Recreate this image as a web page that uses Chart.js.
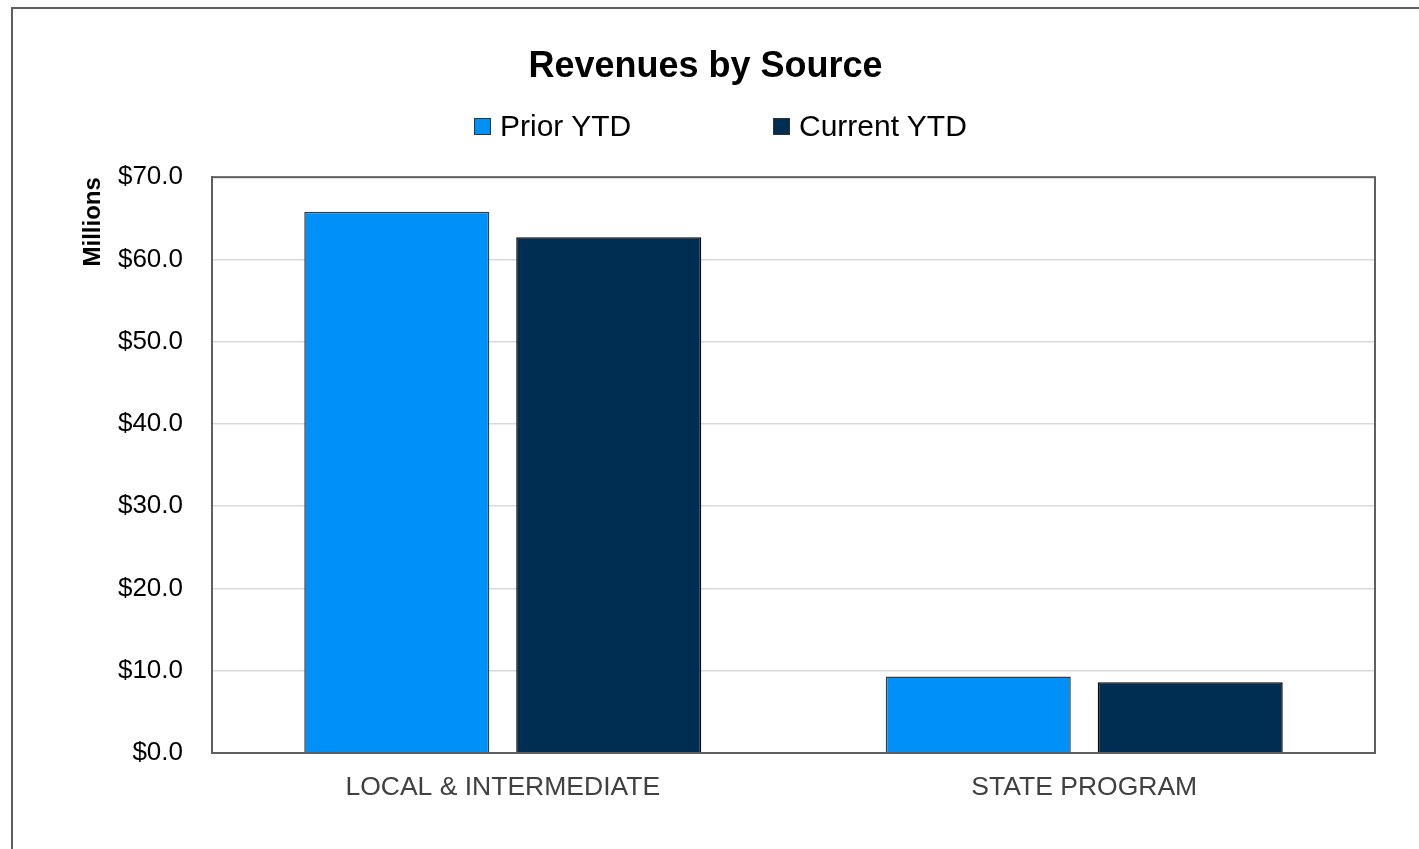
<!DOCTYPE html>
<html>
<head>
<meta charset="utf-8">
<script src="https://cdn.jsdelivr.net/npm/chart.js@4.4.1/dist/chart.umd.min.js"></script>
<style>
    body { margin: 0; background: #fff; font-family: 'Liberation Sans', Arial, sans-serif; overflow: hidden; }
    #frame { position: absolute; left: 11px; top: 7px; width: 1500px; height: 1000px; border: 2px solid #5f5f5f; box-sizing: border-box; }
    #wrap { position: absolute; left: 0; top: 0; width: 1419px; height: 849px; }
    .legend-item { position: absolute; top: 108px; height: 36px; display: flex; align-items: center; font-size: 30px; color: #000; white-space: nowrap; }
    .legend-box { width: 15px; height: 15px; border: 1px solid #333; margin-right: 9px; }
</style>
</head>
<body>
<div id="frame"></div>
<div id="wrap"><canvas id="chartRevenues"></canvas></div>
<div id="legend"></div>

<script>
// Dados (milhões de dólares)
const categorias = ['LOCAL & INTERMEDIATE', 'STATE PROGRAM'];
const seriesNomes = ['Prior YTD', 'Current YTD'];
const priorYTD = [65.8, 9.3];
const currentYTD = [62.7, 8.6];
const ticksY = [0, 10, 20, 30, 40, 50, 60, 70];

const cores = ['#0091f8', '#002e53'];
const bordas = ['#3c3c3c', '#0a0a0a'];
const fonte = "'Liberation Sans', Arial, sans-serif";

// Legenda em HTML (o espaçamento do original não cabe na legenda padrão)
const legendaPos = [474, 773];
const legenda = document.getElementById('legend');
seriesNomes.forEach((nome, i) => {
    const item = document.createElement('div');
    item.className = 'legend-item';
    item.style.left = legendaPos[i] + 'px';
    const box = document.createElement('span');
    box.className = 'legend-box';
    box.style.background = cores[i];
    item.appendChild(box);
    item.appendChild(document.createTextNode(nome));
    legenda.appendChild(item);
});

// Moldura da área do gráfico (topo e direita)
const plotBorder = {
    id: 'plotBorder',
    afterDraw(chart) {
        const { ctx, chartArea: a } = chart;
        ctx.save();
        ctx.strokeStyle = '#5f5f5f';
        ctx.lineWidth = 2;
        ctx.strokeRect(a.left, a.top, a.right - a.left, a.bottom - a.top);
        ctx.restore();
    }
};

const ctx = document.getElementById('chartRevenues').getContext('2d');
const myChart = new Chart(ctx, {
    type: 'bar',
    data: {
        labels: categorias,
        datasets: [
            {
                label: seriesNomes[0],
                data: priorYTD,
                backgroundColor: cores[0],
                borderColor: bordas[0],
                borderWidth: 1.5,
                categoryPercentage: 0.729,
                barPercentage: 0.873
            },
            {
                label: seriesNomes[1],
                data: currentYTD,
                backgroundColor: cores[1],
                borderColor: bordas[1],
                borderWidth: 1.5,
                categoryPercentage: 0.729,
                barPercentage: 0.873
            }
        ]
    },
    options: {
        responsive: true,
        maintainAspectRatio: false,
        animation: false,
        layout: {
            padding: { left: 36, right: 44, top: 0, bottom: 0 }
        },
        plugins: {
            legend: { display: false },
            tooltip: { enabled: false },
            title: {
                display: true,
                text: 'Revenues by Source',
                color: '#000',
                font: { family: fonte, size: 36, weight: 'bold' },
                padding: { top: 45, bottom: 89 }
            }
        },
        scales: {
            x: {
                grid: { display: false, drawTicks: false },
                border: { display: true, color: '#5f5f5f', width: 2 },
                ticks: {
                    color: '#404040',
                    padding: 19,
                    font: { family: fonte, size: 26.5 }
                },
                afterFit: (scale) => { scale.height = 96; }
            },
            y: {
                min: 0,
                max: 70,
                afterBuildTicks: (scale) => { scale.ticks = ticksY.map(v => ({ value: v })); },
                grid: { color: '#d9d9d9', lineWidth: 1.5, drawTicks: false },
                border: { display: true, color: '#5f5f5f', width: 2 },
                ticks: {
                    color: '#000',
                    padding: 29,
                    font: { family: fonte, size: 26 },
                    callback: (v) => '$' + Number(v).toFixed(1)
                },
                title: {
                    display: true,
                    text: 'Millions',
                    align: 'end',
                    color: '#000',
                    font: { family: fonte, size: 24, weight: 'bold' },
                    padding: { top: 43, bottom: 0 }
                },
                afterFit: (scale) => { scale.width = 176; }
            }
        }
    },
    plugins: [plotBorder]
});
</script>
</body>
</html>
